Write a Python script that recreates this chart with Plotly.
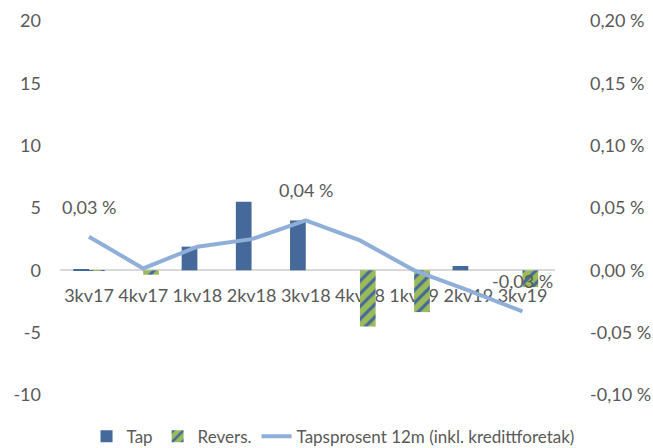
import plotly.graph_objects as go

categories = ["3kv17", "4kv17", "1kv18", "2kv18", "3kv18", "4kv18", "1kv19", "2kv19", "3kv19"]
tap = [0.05, 0.0, 1.9, 5.5, 4.0, 0.0, 0.0, 0.35, 0.0]
revers = [-0.05, -0.35, 0.0, 0.0, 0.0, -4.5, -3.35, 0.0, -1.35]
tapsprosent = [0.027, 0.0015, 0.019, 0.025, 0.040, 0.024, 0.0, -0.016, -0.033]
left_ticks = [-10, -5, 0, 5, 10, 15, 20]
left_ticktext = ["-10", "-5", "0", "5", "10", "15", "20"]
right_ticks = [-0.10, -0.05, 0.0, 0.05, 0.10, 0.15, 0.20]
right_ticktext = ["-0,10 %", "-0,05 %", "0,00 %", "0,05 %", "0,10 %", "0,15 %", "0,20 %"]
labelled_points = [0, 4, 8]

FONT = "Lato"
TXT = "#595959"
BLUE = "#44699A"
GREEN = "#9BBB59"
LINE = "#8FAFD8"

fig = go.Figure()
fig.add_trace(go.Bar(x=categories, y=tap, name="Tap", marker=dict(color=BLUE, line=dict(width=0))))
fig.add_trace(go.Bar(x=categories, y=revers, name="Revers.",
                     marker=dict(color=GREEN, line=dict(width=0),
                                 pattern=dict(shape="/", fgcolor=BLUE, bgcolor=GREEN,
                                              size=9, solidity=0.35, fillmode="replace"))))
fig.add_trace(go.Scatter(x=categories, y=tapsprosent, name="Tapsprosent 12m (inkl. kredittforetak)",
                         mode="lines", line=dict(color=LINE, width=4), yaxis="y2"))

for i in labelled_points:
    v = tapsprosent[i]
    fig.add_annotation(x=categories[i], y=v, xref="x", yref="y2",
                       text=f"{v:.2f}".replace(".", ",") + " %", showarrow=False,
                       yshift=30, font=dict(family=FONT, size=18, color=TXT))

fig.update_layout(
    width=653, height=448,
    margin=dict(l=60, r=98, t=21, b=53, autoexpand=False),
    paper_bgcolor="white", plot_bgcolor="white",
    font=dict(family=FONT, size=18, color=TXT),
    barmode="group", bargap=0.42, bargroupgap=0.0,
    showlegend=True,
    legend=dict(orientation="h", xref="container", yref="container",
                x=0.51, xanchor="center", y=0.025, yanchor="middle",
                font=dict(family=FONT, size=17, color=TXT),
                itemwidth=30, tracegroupgap=0, traceorder="normal"),
    xaxis=dict(type="category", anchor="free", position=1/3, showline=True,
               linecolor="#D9D9D9", linewidth=1.5, ticks="", showgrid=False,
               tickangle=0, automargin=False,
               layer="below traces", tickfont=dict(family=FONT, size=18, color=TXT),
               ticklabelstandoff=9),
    yaxis=dict(range=[-10, 20], tickvals=left_ticks, ticktext=left_ticktext, showgrid=False,
               zeroline=False, automargin=False,
               ticks="", ticklabelstandoff=18, tickfont=dict(family=FONT, size=18, color=TXT)),
    yaxis2=dict(range=[-0.10, 0.20], tickvals=right_ticks, ticktext=right_ticktext,
                overlaying="y", side="right", showgrid=False, zeroline=False, ticks="",
                automargin=False,
                ticklabelstandoff=34, tickfont=dict(family=FONT, size=18, color=TXT)),
)

fig.write_html("out.html", config={"displayModeBar": False},
               post_script="document.body.style.margin='0';")
